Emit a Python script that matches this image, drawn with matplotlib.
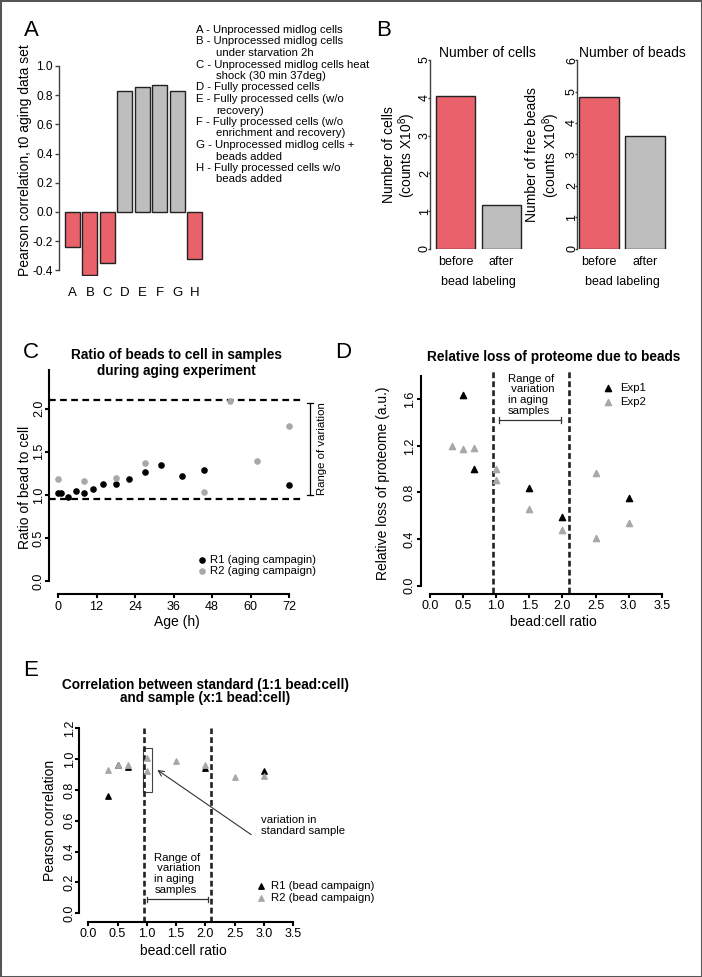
import numpy as np
import matplotlib
matplotlib.use('Agg')
import matplotlib.pyplot as plt
from matplotlib.patches import Rectangle

plt.rcParams['font.family'] = ['Liberation Sans', 'DejaVu Sans']
plt.rcParams['mathtext.default'] = 'regular'
plt.rcParams['axes.unicode_minus'] = False

# ---- data ----
# A: correlation of each condition with t0 of the aging data set
conditions = ['A', 'B', 'C', 'D', 'E', 'F', 'G', 'H']
corr_t0 = [-0.24, -0.43, -0.35, 0.83, 0.855, 0.87, 0.83, -0.325]
condition_text = [
    ('A - Unprocessed midlog cells', False),
    ('B - Unprocessed midlog cells', False),
    ('under starvation 2h', True),
    ('C - Unprocessed midlog cells heat', False),
    ('shock (30 min 37deg)', True),
    ('D - Fully processed cells', False),
    ('E - Fully processed cells (w/o', False),
    ('recovery)', True),
    ('F - Fully processed cells (w/o', False),
    ('enrichment and recovery)', True),
    ('G - Unprocessed midlog cells +', False),
    ('beads added', True),
    ('H - Fully processed cells w/o', False),
    ('beads added', True),
]

# B: counts before / after bead labeling (x10^8)
labeling = ['before', 'after']
n_cells = [4.05, 1.16]
n_beads = [4.82, 3.58]

# C: ratio of beads to cell during aging
age_r1 = [0, 1, 3, 5.5, 8, 11, 14, 18, 22, 27, 32, 38.5, 45.5, 72]
ratio_r1 = [1.02, 1.02, 0.98, 1.05, 1.02, 1.07, 1.13, 1.13, 1.19, 1.26, 1.35, 1.22, 1.29, 1.11]
age_r2 = [0, 8, 18, 27, 45.5, 53.5, 62, 72]
ratio_r2 = [1.19, 1.16, 1.20, 1.37, 1.03, 2.09, 1.39, 1.80]
range_lo, range_hi = 0.95, 2.1

# D: relative loss of proteome
bc_exp1 = [0.5, 0.67, 1.5, 2.0, 3.0]
loss_exp1 = [1.64, 1.0, 0.84, 0.59, 0.75]
bc_exp2 = [0.33, 0.5, 0.67, 1.0, 1.0, 1.5, 2.0, 2.5, 2.5, 3.0]
loss_exp2 = [1.20, 1.17, 1.18, 1.0, 0.91, 0.66, 0.48, 0.97, 0.41, 0.54]

# E: correlation standard vs sample
bc_r1 = [0.33, 0.5, 0.67, 2.0, 3.0]
pc_r1 = [0.76, 0.96, 0.95, 0.94, 0.92]
bc_r2 = [0.33, 0.5, 0.67, 1.0, 1.0, 1.5, 2.0, 2.5, 3.0]
pc_r2 = [0.93, 0.96, 0.96, 1.005, 0.92, 0.99, 0.96, 0.886, 0.89]

RED = '#E9626B'
GRAYBAR = '#BEBEBE'
GRAYPT = '#A8A8A8'
AXC = '#404040'

W, H = 702, 977
fig = plt.figure(figsize=(W / 100, H / 100), dpi=100)


def box(l, t, r, b):
    return [l / W, 1 - b / H, (r - l) / W, (b - t) / H]


def ftext(px, py, s, **kw):
    kw.setdefault('ha', 'center')
    kw.setdefault('va', 'center')
    return fig.text(px / W, 1 - py / H, s, **kw)


def r_axis(ax, color='black', lw=1.5):
    for s in ['top', 'right']:
        ax.spines[s].set_visible(False)
    for s in ['left', 'bottom']:
        ax.spines[s].set_linewidth(lw)
        ax.spines[s].set_color(color)
    ax.tick_params(width=lw, color=color, labelsize=9, length=3.2, pad=1.5)
    ax.patch.set_visible(False)


def rot_yticks(ax, ticks, fmt, pad):
    # R-style vertical y tick labels, centred on the tick
    ax.set_yticks(ticks)
    ax.set_yticklabels([fmt % v for v in ticks], rotation=90, ha='center', va='center')
    ax.tick_params(axis='y', pad=pad)


# ---------------- A ----------------
axA = fig.add_axes(box(59, 66, 205, 276.2))
xa = np.arange(len(conditions))
axA.bar(xa, corr_t0, width=0.86, color=[RED if v < 0 else GRAYBAR for v in corr_t0],
        edgecolor='#222222', linewidth=1)
axA.set_xlim(-0.775, 7.6)
axA.set_ylim(-0.44, 1.0)
r_axis(axA, AXC, 1)
axA.spines['bottom'].set_visible(False)
axA.spines['left'].set_bounds(-0.4, 1.0)
axA.set_yticks(np.arange(-0.4, 1.01, 0.2))
axA.set_yticklabels(['%.1f' % v for v in np.arange(-0.4, 1.01, 0.2)], fontsize=8.6)
axA.tick_params(axis='y', length=3, pad=1.5)
axA.set_xticks(xa)
axA.set_xticklabels(conditions, fontsize=9.5)
axA.tick_params(axis='x', length=0, pad=7.5)
ftext(25, 160, 'Pearson correlation, t0 aging data set', rotation=90, fontsize=10)
ftext(31, 30, 'A', fontsize=16)
for i, (s, indent) in enumerate(condition_text):
    ftext(216 if indent else 196, 30 + i * 11.5, s, ha='left', fontsize=8.2)

# ---------------- B ----------------
def bar_panel(rect, xlim, vals, ymax, title, ylab, title_x, ylab_x, xlab_x):
    ax = fig.add_axes(box(*rect))
    xb = np.arange(len(vals))
    ax.bar(xb, vals, width=0.857, color=[RED, GRAYBAR], edgecolor='#222222', linewidth=1)
    ax.set_xlim(*xlim)
    ax.set_ylim(0, ymax)
    r_axis(ax, AXC, 1)
    ax.spines['bottom'].set_visible(False)
    rot_yticks(ax, list(range(ymax + 1)), '%d', 2.0)
    ax.tick_params(axis='y', length=1.6)
    ax.set_xticks(xb)
    ax.set_xticklabels(labeling, fontsize=9)
    ax.tick_params(axis='x', length=0, pad=5)
    ftext(title_x, 53, title, fontsize=10)
    ftext(ylab_x, 155, ylab, rotation=90, fontsize=10, linespacing=1.05)
    ftext(xlab_x, 282, 'bead labeling', fontsize=9)
    return ax


bar_panel((430, 60, 524, 249), (-0.56, 1.5), n_cells, 5, 'Number of cells',
          'Number of cells\n(counts X10$^8$)', 487, 400, 478)
bar_panel((577, 60, 668, 249), (-0.478, 1.5), n_beads, 6, 'Number of beads',
          'Number of free beads\n(counts X10$^8$)', 632, 543.5, 622)
ftext(384, 31, 'B', fontsize=16)

# ---------------- C ----------------
axC = fig.add_axes(box(49, 370, 302, 581))
axC.set_xlim(-2.8, 76)
axC.set_ylim(0, 2.45)
r_axis(axC)
axC.spines['bottom'].set_position(('outward', 9.5))
axC.spines['bottom'].set_bounds(0, 72)
axC.set_xticks(np.arange(0, 73, 12))
rot_yticks(axC, [0, 0.5, 1.0, 1.5, 2.0], '%.1f', 4.0)
for yv in (range_lo, range_hi):
    axC.axhline(yv, color='black', lw=1.6, dashes=(3, 2))
p1 = axC.scatter(age_r1, ratio_r1, s=14, color='black', zorder=3, label='R1 (aging campagin)')
p2 = axC.scatter(age_r2, ratio_r2, s=14, color=GRAYPT, zorder=3, label='R2 (aging campaign)')
axC.plot([78.5, 78.5], [1.0, 2.07], color='black', lw=0.9, clip_on=False)
for yv in (1.0, 2.07):
    axC.plot([77.5, 79.5], [yv, yv], color='black', lw=0.9, clip_on=False)
axC.text(82.2, 1.54, 'Range of variation', rotation=90, ha='center', va='center', fontsize=8.2)
axC.legend(handles=[p1, p2], loc='center left', bbox_to_anchor=(198.6 / W, 1 - 565.5 / H),
           bbox_transform=fig.transFigure, frameon=False, fontsize=8.2, handlelength=0.6,
           handletextpad=0.4, labelspacing=0.1, borderpad=0, borderaxespad=0, scatterpoints=1)
ftext(176, 363, 'Ratio of beads to cell in samples\nduring aging experiment',
      fontsize=9.8, fontweight='bold', linespacing=1.1)
ftext(25, 487, 'Ratio of bead to cell', rotation=90, fontsize=10)
ftext(177, 622, 'Age (h)', fontsize=10)
ftext(31, 352, 'C', fontsize=16)

# ---------------- D ----------------
axD = fig.add_axes(box(430, 376.25, 661.7, 585.5))
axD.set_xlim(0, 3.5)
axD.set_ylim(0, 1.8)
r_axis(axD)
axD.spines['left'].set_position(('outward', 6.5))
axD.spines['bottom'].set_position(('outward', 5.8))
axD.set_xticks(np.arange(0, 3.51, 0.5))
axD.set_xticklabels(['%.1f' % v for v in np.arange(0, 3.51, 0.5)])
rot_yticks(axD, np.arange(0, 1.61, 0.4), '%.1f', 4.8)
for xv in (range_lo, range_hi):
    axD.axvline(xv, ymin=-0.038, ymax=1.035, color='#222222', lw=1.9, dashes=(2.2, 1.2),
                clip_on=False)
d1 = axD.scatter(bc_exp1, loss_exp1, s=20, marker='^', color='black', zorder=3, label='Exp1')
d2 = axD.scatter(bc_exp2, loss_exp2, s=20, marker='^', color=GRAYPT, zorder=3, label='Exp2')
axD.text(1.18, 1.64, 'Range of\n variation\nin aging\nsamples', ha='left', va='center',
         fontsize=8.2, linespacing=1.1)
axD.plot([1.04, 1.98], [1.424, 1.424], color='#333333', lw=0.9)
for xv in (1.04, 1.98):
    axD.plot([xv, xv], [1.40, 1.448], color='#333333', lw=0.9)
axD.legend(handles=[d1, d2], loc='center left', bbox_to_anchor=(602.3 / W, 1 - 395 / H),
           bbox_transform=fig.transFigure, frameon=False, fontsize=8.2, handlelength=1.0,
           handletextpad=0.55, labelspacing=0.3, borderpad=0, borderaxespad=0, scatterpoints=1)
ftext(553.7, 357, 'Relative loss of proteome due to beads', fontsize=9.8, fontweight='bold')
ftext(383, 483, 'Relative loss of proteome (a.u.)', rotation=90, fontsize=10)
ftext(553, 622, 'bead:cell ratio', fontsize=10)
ftext(343, 352, 'D', fontsize=16)

# ---------------- E ----------------
axE = fig.add_axes(box(88.3, 728.3, 293.3, 913.3))
axE.set_xlim(0, 3.5)
axE.set_ylim(0, 1.2)
r_axis(axE)
axE.spines['left'].set_position(('outward', 6.5))
axE.spines['bottom'].set_position(('outward', 6))
axE.set_xticks(np.arange(0, 3.51, 0.5))
axE.set_xticklabels(['%.1f' % v for v in np.arange(0, 3.51, 0.5)])
rot_yticks(axE, np.arange(0, 1.21, 0.2), '%.1f', 3.6)
for xv in (range_lo, range_hi):
    axE.axvline(xv, ymin=-0.045, ymax=1.0, color='#222222', lw=1.9, dashes=(2.2, 1.2),
                clip_on=False)
e1 = axE.scatter(bc_r1, pc_r1, s=15, marker='^', color='black', zorder=3,
                 label='R1 (bead campaign)')
e2 = axE.scatter(bc_r2, pc_r2, s=15, marker='^', color=GRAYPT, zorder=4,
                 label='R2 (bead campaign)')
axE.add_patch(Rectangle((0.94, 0.785), 0.15, 0.285, fill=False, edgecolor='#444444', lw=0.8))
axE.annotate('', xy=(1.14, 0.94), xytext=(2.82, 0.5),
             arrowprops=dict(arrowstyle='->', lw=0.8, color='#333333'))
axE.text(2.95, 0.57, 'variation in\nstandard sample', ha='left', va='center', fontsize=8.2,
         linespacing=1.1)
axE.text(1.13, 0.256, 'Range of\n variation\nin aging\nsamples', ha='left', va='center',
         fontsize=8.2, linespacing=1.1)
axE.plot([1.0, 2.05], [0.091, 0.091], color='#333333', lw=0.9)
for xv in (1.0, 2.05):
    axE.plot([xv, xv], [0.075, 0.107], color='#333333', lw=0.9)
axE.legend(handles=[e1, e2], loc='center left', bbox_to_anchor=(256.4 / W, 1 - 892 / H),
           bbox_transform=fig.transFigure, frameon=False, fontsize=8.2, handlelength=0.8,
           handletextpad=0.47, labelspacing=0.15, borderpad=0, borderaxespad=0, scatterpoints=1)
ftext(205, 691.5, 'Correlation between standard (1:1 bead:cell)\nand sample (x:1 bead:cell)',
      fontsize=9.8, fontweight='bold', linespacing=0.88)
ftext(50, 820, 'Pearson correlation', rotation=90, fontsize=10)
ftext(183, 951, 'bead:cell ratio', fontsize=10)
ftext(31, 670, 'E', fontsize=16)

fig.patches.append(Rectangle((0, 0), 1, 1, transform=fig.transFigure, fill=False,
                             edgecolor='#555555', lw=2.2))

fig.savefig('out.png', dpi=100)
